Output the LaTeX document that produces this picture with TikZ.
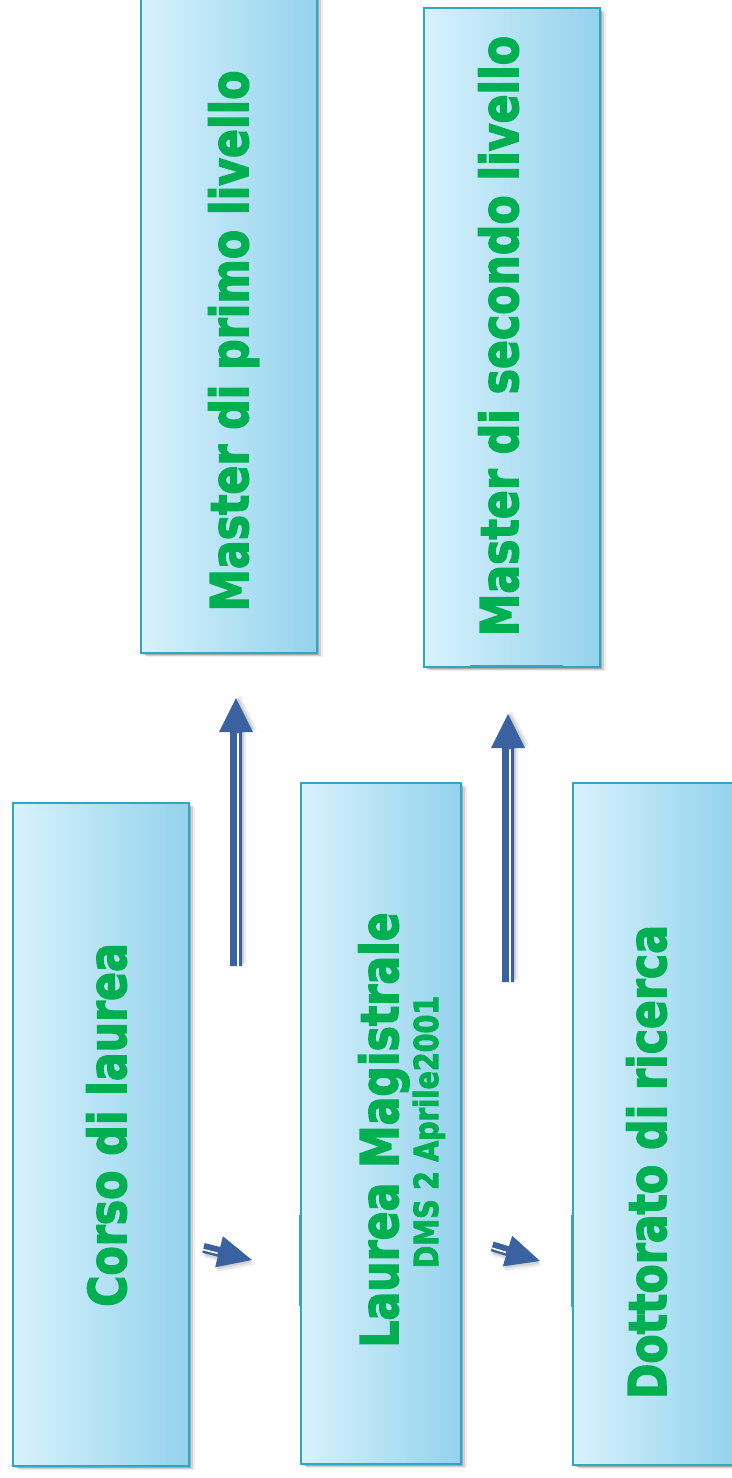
\documentclass[tikz,border=0pt]{standalone}
\usepackage{fontspec}
\setmainfont{DejaVu Sans}
\newfontfamily\heavyfont{DejaVu Sans Bold}[FakeBold=3]
\usetikzlibrary{shadows}
\definecolor{txtgreen}{HTML}{00B050}
\definecolor{boxline}{HTML}{2FA6C4}
\definecolor{boxleft}{HTML}{D8F2FD}
\definecolor{boxright}{HTML}{94D2EC}
\definecolor{arrowblue}{HTML}{3A62A0}
\tikzset{
  box/.style={rectangle, draw=boxline, line width=1.8pt, left color=boxleft, right color=boxright,
    inner sep=0pt, anchor=north west,
    drop shadow={shadow xshift=2pt,shadow yshift=-2pt,opacity=.18,fill=black},
    drop shadow={shadow xshift=4pt,shadow yshift=-3pt,opacity=.12,fill=black},
    drop shadow={shadow xshift=6pt,shadow yshift=-4pt,opacity=.07,fill=black}},
  lbl/.style={text=txtgreen, inner sep=0pt, rotate=90, anchor=base,
    font=\heavyfont\fontsize{52}{60}\selectfont},
  sublbl/.style={text=txtgreen, inner sep=0pt, rotate=90, anchor=base,
    font=\heavyfont\fontsize{33}{40}\selectfont},
  edgemark/.style={draw=boxline, line width=2.8pt}
}
% tip x, tip y, angle, head length, head half width, total length, shaft half width
\newcommand{\blkarrow}[7]{%
  \begin{scope}[shift={(#1,#2)}, rotate=#3]
    \fill[black, opacity=.08] (3,-4) -- (-#4+3,#5-4) -- (-#4+3,#7-4) -- (-#6+3,#7-4)
      -- (-#6+3,-#7-4) -- (-#4+3,-#7-4) -- (-#4+3,-#5-4) -- cycle;
    \fill[black, opacity=.10] (1.5,-2) -- (-#4+1.5,#5-2) -- (-#4+1.5,#7-2) -- (-#6+1.5,#7-2)
      -- (-#6+1.5,-#7-2) -- (-#4+1.5,-#7-2) -- (-#4+1.5,-#5-2) -- cycle;
    \fill[arrowblue] (0,0) -- (-#4,#5) -- (-#4,#7) -- (-#6,#7)
      -- (-#6,-#7) -- (-#4,-#7) -- (-#4,-#5) -- cycle;
    \draw[white, line width=1.6pt] (-#4-1,-0.35*#7) -- (-#6,-0.35*#7);
  \end{scope}}
\begin{document}
\begin{tikzpicture}[x=1pt,y=1pt]
  \fill[white] (0,0) rectangle (731,-1478);
  \useasboundingbox (0,0) rectangle (731,-1478);

  % boxes
  \node[box, minimum width=176pt, minimum height=663pt] (corso) at (12,-802) {};
  \node[box, minimum width=160pt, minimum height=681pt] (magistrale) at (300,-782) {};
  \node[box, minimum width=160pt, minimum height=682pt] (dottorato) at (572,-782) {};
  \node[box, minimum width=176pt, minimum height=662pt] (master1) at (140,10) {};
  \node[box, minimum width=176pt, minimum height=659pt] (master2) at (423,-7) {};

  % thicker edge fragments
  \draw[edgemark] (300,-1215) -- (300,-1306);
  \draw[edgemark] (572,-1215) -- (572,-1307);
  \draw[edgemark] (470,-666) -- (563,-666);

  % labels
  \node[lbl] (tcorso) at (126,-1125) {\scalebox{0.82}[1]{Corso di laurea}};
  \node[lbl] (tmaster1) at (248,-341) {\scalebox{0.82}[1]{Master di primo livello}};
  \node[lbl] (tmaster2) at (518,-336) {\scalebox{0.82}[1]{Master di secondo livello}};
  \node[lbl] (tmag) at (398,-1130) {\scalebox{0.82}[1]{Laurea Magistrale}};
  \node[sublbl] (tdms) at (438,-1132) {\scalebox{0.82}[1]{DMS 2 Aprile2001}};
  \node[lbl] (tdott) at (666,-1162) {\scalebox{0.82}[1]{Dottorato di ricerca}};

  % arrows
  \blkarrow{236}{-698}{90}{34}{17}{268}{6}
  \blkarrow{508}{-714}{90}{34}{17}{268}{6}
  \blkarrow{252}{-1260}{-14}{34}{16}{50}{5}
  \blkarrow{540}{-1261}{-17}{34}{16}{50}{5}
\end{tikzpicture}
\end{document}
